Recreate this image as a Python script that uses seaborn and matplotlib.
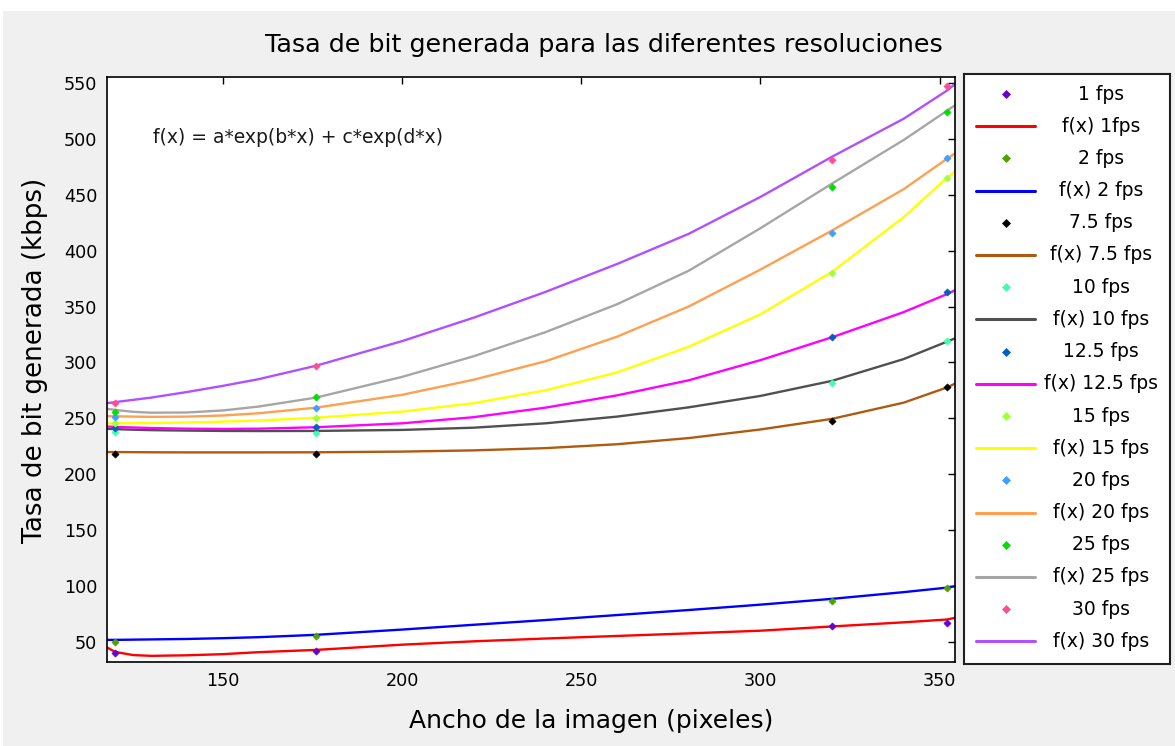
import matplotlib
matplotlib.use("Agg")
import matplotlib.pyplot as plt
from matplotlib.patches import Rectangle
from matplotlib.lines import Line2D
import seaborn as sns
import pandas as pd

sns.set_style("white")
plt.rcParams["font.family"] = ["DejaVu Sans"]

# Measured widths (pixels) and bit rate samples per frame rate
fps_labels = ["1", "2", "7.5", "10", "12.5", "15", "20", "25", "30"]
fit_labels = ["f(x) 1fps", "f(x) 2 fps", "f(x) 7.5 fps", "f(x) 10 fps", "f(x) 12.5 fps",
              "f(x) 15 fps", "f(x) 20 fps", "f(x) 25 fps", "f(x) 30 fps"]

widths = [120, 176, 320, 352]
rate_1 = [40, 42, 64, 67]
rate_2 = [50, 55, 87, 98]
rate_7_5 = [218.5, 218.5, 248, 278]
rate_10 = [238, 236.5, 282, 319]
rate_12_5 = [241, 242.5, 323, 363]
rate_15 = [245.5, 250, 380, 465]
rate_20 = [251.5, 259, 416, 483]
rate_25 = [256, 269, 457, 524]
rate_30 = [263.5, 297, 481, 547]

# Fitted curves f(x) = a*exp(b*x) + c*exp(d*x), sampled along the width axis
fit_x = [117.7, 120, 125, 130, 140, 150, 160, 176, 200, 220, 240, 260, 280, 300, 320, 340, 352, 354.3]
fit_1 = [45, 41, 38.2, 37.5, 38, 39, 40.8, 42.8, 47.5, 50.5, 53, 55.3, 57.6, 60, 63.8, 67.5, 70, 71.5]
fit_2 = [51.8, 51.8, 52, 52.2, 52.6, 53.3, 54.2, 56.3, 61, 65.3, 69.5, 74, 78.5, 83.3, 88.5, 94.5, 98.5, 99.8]
fit_7_5 = [219.8, 219.8, 219.7, 219.6, 219.5, 219.5, 219.5, 219.6, 220.2, 221.3, 223.3, 226.8, 232.3, 240, 249.5, 264, 277.5, 281]
fit_10 = [240.6, 240.3, 239.8, 239.4, 239, 238.7, 238.6, 238.7, 239.6, 241.6, 245.5, 251.5, 259.8, 270, 283.5, 303, 318.5, 321.5]
fit_12_5 = [242.6, 242.3, 241.8, 241.3, 240.7, 240.5, 240.7, 242, 245.5, 251, 259.5, 270.5, 284, 302, 322.5, 345, 361, 364.5]
fit_15 = [245.5, 245.5, 245.6, 245.7, 246.2, 247, 248, 250.5, 256, 263.5, 275, 291, 314, 343, 381, 430, 465, 471]
fit_20 = [252, 251.8, 251.5, 251.3, 251.5, 252.5, 254.5, 259.5, 271, 284.5, 301, 323, 350, 383, 418, 455, 482, 487]
fit_25 = [258.5, 257.5, 255.8, 255, 255.2, 257, 260.5, 268.5, 287, 305.5, 327, 352, 382, 420, 460, 499, 525, 530]
fit_30 = [263.5, 264.5, 266.5, 268.5, 273.5, 279, 285, 297, 319, 340, 363, 388, 415, 448, 484, 518, 543, 549]

point_colors = ["#6600cc", "#4fa000", "#000000", "#40ffb0", "#0060c0",
                "#a0ff40", "#40a0ff", "#00e000", "#ff4d94"]
line_colors = ["#ff0000", "#0000ff", "#b05a10", "#505050", "#ff00ff",
               "#ffff00", "#ffa050", "#a6a6a6", "#b050ff"]

rates = [rate_1, rate_2, rate_7_5, rate_10, rate_12_5, rate_15, rate_20, rate_25, rate_30]
fits = [fit_1, fit_2, fit_7_5, fit_10, fit_12_5, fit_15, fit_20, fit_25, fit_30]

W, H = 1175, 746
fig = plt.figure(figsize=(W / 100, H / 100), dpi=100, facecolor="white")
fig.patches.append(Rectangle((3 / W, 0), 1, (H - 11) / H, transform=fig.transFigure,
                             facecolor="#f0f0f0", edgecolor="none", zorder=-10))

ax = fig.add_axes([107 / W, 1 - 662 / H, (955 - 107) / W, (662 - 77) / H])
ax.set_facecolor("white")

for lbl, r, f, pc, lc in zip(fps_labels, rates, fits, point_colors, line_colors):
    pts = pd.DataFrame({"ancho": widths, "tasa": r})
    crv = pd.DataFrame({"ancho": fit_x, "tasa": f})
    sns.lineplot(data=crv, x="ancho", y="tasa", color=lc, lw=1.7, ax=ax,
                 sort=False, estimator=None, zorder=2)
    sns.scatterplot(data=pts, x="ancho", y="tasa", color=pc, marker="D", s=13,
                    edgecolor=pc, linewidth=0.5, ax=ax, zorder=3)

ax.set_xlim(117.7, 354.3)
ax.set_ylim(32, 555.3)
ax.set_xticks([150, 200, 250, 300, 350])
ax.set_yticks(range(50, 551, 50))
ax.set_xlabel("")
ax.set_ylabel("")
ax.tick_params(direction="in", length=5, width=1, top=True, right=True,
               labelsize=12.7, colors="black", pad=7)
for sp in ax.spines.values():
    sp.set_color("black")
    sp.set_linewidth(1.2)

ax.text(0.054, 0.896, "f(x) = a*exp(b*x) + c*exp(d*x)", transform=ax.transAxes,
        fontsize=13.5, va="center", ha="left", color="#1a1a1a")

fig.text(604 / W, 1 - 45 / H, "Tasa de bit generada para las diferentes resoluciones",
         ha="center", va="center", fontsize=18.3, color="black")
fig.text(591 / W, 1 - 721 / H, "Ancho de la imagen (pixeles)",
         ha="center", va="center", fontsize=18, color="black")
fig.text(35 / W, 1 - 360 / H, "Tasa de bit generada (kbps)", rotation=90,
         ha="center", va="center", fontsize=18.8, color="black")

# Legend panel
lax = fig.add_axes([964 / W, 1 - 664 / H, (1170 - 964) / W, (664 - 74) / H])
lax.set_xlim(964, 1170)
lax.set_ylim(664, 74)
lax.set_xticks([])
lax.set_yticks([])
lax.set_facecolor("white")
for sp in lax.spines.values():
    sp.set_color("#202020")
    sp.set_linewidth(1.5)

entries = []
for lbl, fl, pc, lc in zip(fps_labels, fit_labels, point_colors, line_colors):
    entries.append(("point", f"{lbl} fps", pc))
    entries.append(("line", fl, lc))

for i, (kind, text, col) in enumerate(entries):
    y = 94 + i * 32.2
    if kind == "point":
        lax.add_line(Line2D([1006], [y], marker="D", color=col, markersize=4.2,
                            markeredgewidth=0.5, linestyle="none"))
    else:
        lax.add_line(Line2D([976, 1035], [y, y], color=col, lw=2.2))
    lax.text(1101, y, text, ha="center", va="center", fontsize=13.5, color="black")

fig.savefig("out.png", dpi=100, facecolor=fig.get_facecolor())
